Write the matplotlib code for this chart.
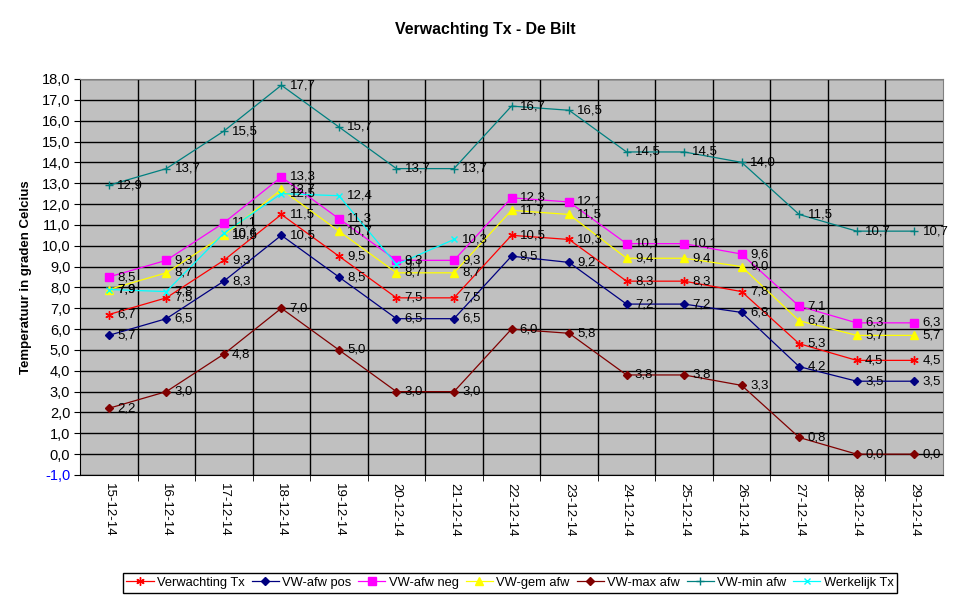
import numpy as np
import matplotlib
matplotlib.use("Agg")
import matplotlib.pyplot as plt
from matplotlib.ticker import FuncFormatter, MultipleLocator

plt.rcParams["font.family"] = ["Liberation Sans", "DejaVu Sans"]

dates = ["15-12-14", "16-12-14", "17-12-14", "18-12-14", "19-12-14", "20-12-14",
         "21-12-14", "22-12-14", "23-12-14", "24-12-14", "25-12-14", "26-12-14",
         "27-12-14", "28-12-14", "29-12-14"]

verwachting_tx = [6.7, 7.5, 9.3, 11.5, 9.5, 7.5, 7.5, 10.5, 10.3, 8.3, 8.3, 7.8, 5.3, 4.5, 4.5]
vw_afw_pos = [5.7, 6.5, 8.3, 10.5, 8.5, 6.5, 6.5, 9.5, 9.2, 7.2, 7.2, 6.8, 4.2, 3.5, 3.5]
vw_afw_neg = [8.5, 9.3, 11.1, 13.3, 11.3, 9.3, 9.3, 12.3, 12.1, 10.1, 10.1, 9.6, 7.1, 6.3, 6.3]
vw_gem_afw = [7.9, 8.7, 10.5, 12.7, 10.7, 8.7, 8.7, 11.7, 11.5, 9.4, 9.4, 9.0, 6.4, 5.7, 5.7]
vw_max_afw = [2.2, 3.0, 4.8, 7.0, 5.0, 3.0, 3.0, 6.0, 5.8, 3.8, 3.8, 3.3, 0.8, 0.0, 0.0]
vw_min_afw = [12.9, 13.7, 15.5, 17.7, 15.7, 13.7, 13.7, 16.7, 16.5, 14.5, 14.5, 14.0, 11.5, 10.7, 10.7]
werkelijk_tx = [7.9, 7.8, 10.6, 12.5, 12.4, 9.1, 10.3]

# (naam, waarden, kleur, marker, markersize)
series = [
    ("Verwachting Tx", verwachting_tx, "#FF0000", (6, 2, 0), 6),
    ("VW-afw pos", vw_afw_pos, "#000080", "D", 4.5),
    ("VW-afw neg", vw_afw_neg, "#FF00FF", "s", 5.5),
    ("VW-gem afw", vw_gem_afw, "#FFFF00", "^", 6),
    ("VW-max afw", vw_max_afw, "#800000", "D", 4.5),
    ("VW-min afw", vw_min_afw, "#008080", "+", 6),
    ("Werkelijk Tx", werkelijk_tx, "#00FFFF", "x", 5),
]

fig = plt.figure(figsize=(9.69, 6.02), dpi=100)
ax = fig.add_axes([80 / 969, 1 - 475 / 602, (943 - 80) / 969, (475 - 79) / 602])
ax.set_facecolor("#C0C0C0")

x = np.arange(len(dates))
for name, vals, color, marker, ms in series:
    xs = x[:len(vals)]
    ax.plot(xs, vals, color=color, lw=0.9, marker=marker, ms=ms,
            mec=color, mfc=color, mew=1.0, label=name, zorder=3)
    for xi, v in zip(xs, vals):
        ax.annotate(f"{v:.1f}".replace(".", ","), (xi, v), xytext=(6, 0),
                    textcoords="offset points", ha="left", va="center",
                    fontsize=9.5, color="black", zorder=4)

ax.set_xlim(-0.5, len(dates) - 0.5)
ax.set_ylim(-1, 18)
ax.yaxis.set_major_locator(MultipleLocator(1))
ax.yaxis.set_major_formatter(FuncFormatter(lambda v, p: f"{v:.1f}".replace(".", ",")))
ax.grid(axis="y", color="black", lw=1.0, zorder=1)

ax.set_xticks(x)
ax.set_xticklabels(dates, rotation=270, fontsize=9.5)
ax.set_xticks(np.arange(0.5, len(dates) - 1, 1), minor=True)
ax.tick_params(axis="x", which="major", length=0, pad=6)
ax.tick_params(axis="x", which="minor", length=4, direction="out", color="black")
ax.grid(axis="x", which="minor", color="black", lw=1.0, zorder=1)
ax.tick_params(axis="y", labelsize=10.5, length=4, direction="out", pad=3)
for lbl in ax.get_yticklabels():
    if lbl.get_text().startswith("-1"):
        lbl.set_color("blue")
ax.set_axisbelow(True)

for side in ["top", "right"]:
    ax.spines[side].set_color("#808080")
for side in ["left", "bottom"]:
    ax.spines[side].set_color("black")

ax.set_ylabel("Temperatuur in graden Celcius", fontsize=9.5, fontweight="bold", labelpad=7)
fig.suptitle("Verwachting Tx - De Bilt", fontsize=11.4, fontweight="bold", x=485 / 969, y=1 - 22 / 602)

leg = fig.legend(loc="center", bbox_to_anchor=(510 / 969, 1 - 583 / 602), ncol=7,
                 fontsize=9.3, frameon=True, fancybox=False, edgecolor="black",
                 handlelength=2.1, handletextpad=0.25, columnspacing=0.55,
                 borderpad=0.3, borderaxespad=0, framealpha=1)
leg.get_frame().set_linewidth(1.0)

fig.savefig("out.png", dpi=100, facecolor="white")
